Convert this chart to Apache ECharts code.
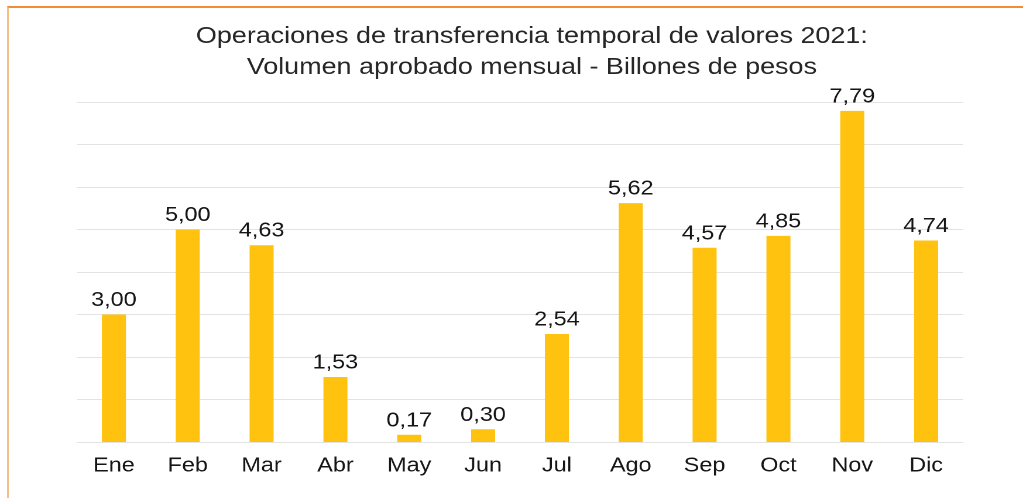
<!DOCTYPE html>
<html>
<head>
<meta charset="utf-8">
<script src="https://cdn.jsdelivr.net/npm/echarts@6/dist/echarts.min.js"></script>
<style>
html,body{margin:0;padding:0;background:#fff;overflow:hidden;}
#wrap{position:absolute;left:0;top:0;width:1023px;height:498px;overflow:hidden;}
#chart{width:874px;height:498px;position:absolute;left:0;top:0;transform-origin:0 0;transform:scaleX(1.17048);}
#frame{position:absolute;left:7px;top:6px;width:1016px;height:492px;border-left:2px solid #F6BF88;border-top:2px solid #F28C36;box-sizing:border-box;pointer-events:none;}
</style>
</head>
<body>
<div id="wrap"><div id="chart"></div></div>
<div id="frame"></div>
<script>
const categories = ['Ene','Feb','Mar','Abr','May','Jun','Jul','Ago','Sep','Oct','Nov','Dic'];
const values = [3.00, 5.00, 4.63, 1.53, 0.17, 0.30, 2.54, 5.62, 4.57, 4.85, 7.79, 4.74];
const titleLines = ['Operaciones de transferencia temporal de valores 2021:', 'Volumen aprobado mensual - Billones de pesos'];

const S = 1.17048; // horizontal stretch of the reference rendering
const font = 'Liberation Sans, Arial, sans-serif';
const chart = echarts.init(document.getElementById('chart'), null, {renderer:'canvas', devicePixelRatio:2});
chart.setOption({
  animation:false,
  backgroundColor:'#fff',
  title:{
    text:titleLines.join('\n'),
    left:526/S, top:16, textAlign:'center',
    textStyle:{fontFamily:font, fontSize:23, fontWeight:'normal', color:'#262626', lineHeight:31}
  },
  grid:{left:77/S, right:60/S, top:102, bottom:56},
  xAxis:{
    type:'category', data:categories,
    axisLine:{show:true, lineStyle:{color:'#e3e3e3', width:1}},
    axisTick:{show:false},
    axisLabel:{fontFamily:font, fontSize:20, color:'#151515', margin:14}
  },
  yAxis:{
    type:'value', min:0, max:8, interval:1,
    axisLabel:{show:false}, axisLine:{show:false}, axisTick:{show:false},
    splitLine:{lineStyle:{color:'#e3e3e3', width:1}}
  },
  series:[{
    type:'bar', data:values, barWidth:24/S,
    itemStyle:{color:'#FFC20E'},
    label:{show:true, position:'top', distance:4,
      fontFamily:font, fontSize:20, color:'#151515',
      formatter:p=>p.value.toFixed(2).replace('.',',')}
  }]
});
</script>
</body>
</html>
